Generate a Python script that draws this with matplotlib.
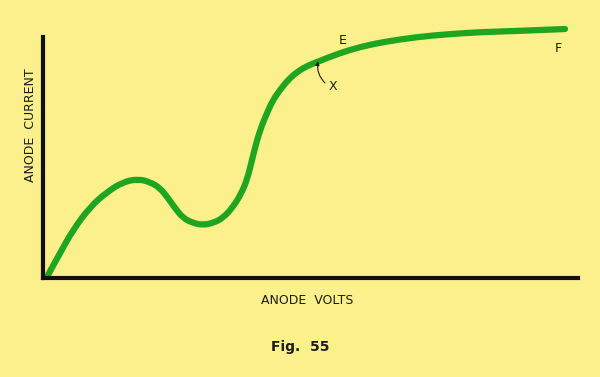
import matplotlib.pyplot as plt
from matplotlib.path import Path
from matplotlib.patches import PathPatch

# curve (arbitrary units: volts along, current up)
volts = [5, 17, 30, 47, 64, 80, 95, 107, 117, 125, 132, 140, 150, 160, 170,
         180, 190, 198, 204, 209, 214, 219, 224, 230, 237, 245, 254, 264, 274,
         297, 317, 340, 374, 407, 440, 474, 522]
current = [3, 25, 48, 71, 86, 96, 99, 96, 90, 80, 70, 60, 55, 53, 55,
           60, 71, 84, 98, 118, 138, 153, 165, 178, 188, 198, 206, 212, 216,
           225, 231, 236, 241, 244, 246, 247, 249]

bg = '#fcf08c'
green = '#1fa51f'
ink = '#1c1c1c'

fig = plt.figure(figsize=(6, 3.77), dpi=100, facecolor=bg)
ax = fig.add_axes([43/600, 99/377, 535/600, 258/377])
ax.set_facecolor(bg)
ax.set_xlim(0, 535)
ax.set_ylim(0, 258)

for s in ['top', 'right']:
    ax.spines[s].set_visible(False)
ax.spines['left'].set_bounds(0, 241)
ax.spines['left'].set_linewidth(3)
ax.spines['bottom'].set_linewidth(3)
ax.spines['left'].set_color('#111111')
ax.spines['bottom'].set_color('#111111')
ax.set_xticks([])
ax.set_yticks([])

# smooth stroke: the read points act as quadratic control points
pts = list(zip(volts, current))
verts = [pts[0]]
codes = [Path.MOVETO]
for i in range(1, len(pts) - 1):
    mid = ((pts[i][0] + pts[i + 1][0]) / 2, (pts[i][1] + pts[i + 1][1]) / 2)
    if i == len(pts) - 2:
        mid = pts[-1]
    verts += [pts[i], mid]
    codes += [Path.CURVE3, Path.CURVE3]
ax.add_patch(PathPatch(Path(verts, codes), fill=False, edgecolor=green,
                       lw=4.5, capstyle='round', joinstyle='round'))

ax.text(300, 238, 'E', fontsize=9, color=ink, ha='center', va='center')
ax.text(515, 230, 'F', fontsize=9, color=ink, ha='center', va='center')
ax.text(290, 191, 'X', fontsize=9, color=ink, ha='center', va='center')
ax.annotate('', xy=(275, 217), xytext=(282, 195),
            arrowprops=dict(arrowstyle='-|>', color=ink, lw=0.8,
                            mutation_scale=6, shrinkA=0, shrinkB=0,
                            connectionstyle='arc3,rad=-0.25'))

fig.text(30/600, 1 - 125/377, 'ANODE  CURRENT', rotation=90, fontsize=9,
         color=ink, ha='center', va='center')
fig.text(307/600, 1 - 300/377, 'ANODE  VOLTS', fontsize=9, color=ink,
         ha='center', va='center')
fig.text(300/600, 1 - 347/377, 'Fig.  55', fontsize=10, fontweight='bold',
         color=ink, ha='center', va='center')

fig.savefig('out.png', dpi=100, facecolor=bg)
